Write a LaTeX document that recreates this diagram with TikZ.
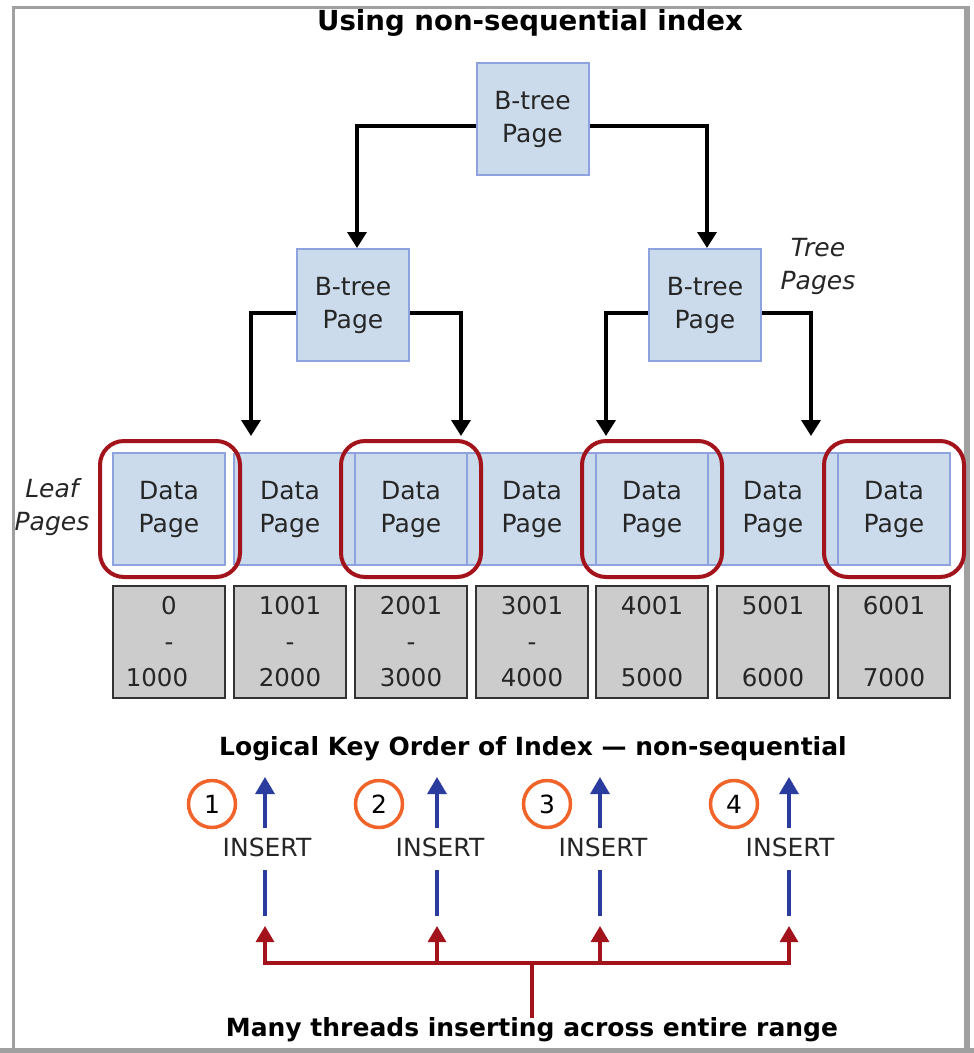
\documentclass[tikz,border=0pt]{standalone}
\usepackage{fontspec}
\setmainfont{DejaVu Sans}
\usetikzlibrary{arrows.meta}
\definecolor{boxfill}{HTML}{CBDBEB}
\definecolor{boxline}{HTML}{8EA3DD}
\definecolor{grayfill}{HTML}{CCCCCC}
\definecolor{hired}{HTML}{A3131B}
\definecolor{orng}{HTML}{F0642A}
\definecolor{arrblue}{HTML}{2A3C9E}
\definecolor{framegray}{HTML}{A0A0A0}
\tikzset{
  txt/.style={font=\fontsize{25}{33}\selectfont, align=center, inner sep=0pt, text=black!85},
  pagebox/.style={txt, draw=boxline, fill=boxfill, line width=2pt, minimum width=112pt, minimum height=112pt},
  rangebox/.style={font=\fontsize{24.5}{36}\selectfont, text=black!85, align=center, inner sep=0pt, draw=black!80, fill=grayfill, line width=2pt, minimum width=112pt, minimum height=112pt},
  hilite/.style={draw=hired, line width=4pt, rounded corners=24pt, minimum width=140pt, minimum height=136pt, inner sep=0pt},
  treearrow/.style={line width=3.5pt, -{Triangle[width=19pt,length=16pt]}},
  bluearrow/.style={draw=arrblue, line width=3.2pt},
  redline/.style={draw=hired, line width=3.2pt},
  numcircle/.style={circle, draw=orng, fill=white, line width=3.5pt, minimum size=47pt, inner sep=0pt, font=\fontsize{25}{25}\selectfont},
  boldtxt/.style={font=\bfseries\fontsize{25}{25}\selectfont, inner sep=0pt},
  itxt/.style={font=\itshape\fontsize{25}{33}\selectfont, align=center, inner sep=0pt, text=black!85}
}
\begin{document}
\begin{tikzpicture}[x=1pt,y=-1pt]
\useasboundingbox (0,0) rectangle (974,1053);
\fill[white] (0,0) rectangle (974,1053);
\fill[framegray] (12,6) rectangle (970,9);
\fill[framegray] (12,6) rectangle (15,1053);
\fill[framegray] (964,6) rectangle (970,1053);
\fill[framegray] (0,1048) rectangle (974,1053);

\node[boldtxt, font=\bfseries\fontsize{27.6}{27.6}\selectfont] (title) at (530,23) {Using non-sequential index};

% tree pages
\node[pagebox] (top) at (532.5,119) {B-tree\\Page};
\node[pagebox] (lb) at (353,305) {B-tree\\Page};
\node[pagebox] (rb) at (705,305) {B-tree\\Page};
\node[itxt] (treelbl) at (818,266) {Tree\\Pages};

% leaf strip
\fill[boxfill] (234,453) rectangle (950,565);
\draw[boxline, line width=2pt] (234,453) -- (950,453);
\draw[boxline, line width=2pt] (234,565) -- (950,565);
\draw[boxline, line width=2pt] (234,453) -- (234,565);

\node[hilite] (h1) at (170,509) {};
\node[hilite] (h3) at (411,509) {};
\node[hilite] (h5) at (652,509) {};
\node[hilite] (h7) at (894,509) {};

\node[pagebox] (d1) at (169,509) {Data\\Page};
\node[txt] (d2) at (290,509) {Data\\Page};
\node[pagebox] (d3) at (411,509) {Data\\Page};
\node[txt] (d4) at (532,509) {Data\\Page};
\node[pagebox] (d5) at (652,509) {Data\\Page};
\node[txt] (d6) at (773,509) {Data\\Page};
\node[pagebox] (d7) at (894,509) {Data\\Page};

\node[itxt] (leaflbl) at (52,507) {Leaf\\Pages};

% range boxes
\node[rangebox] (r1) at (169,642) {0\\-\\\hbox{1000\kern24pt}};
\node[rangebox] (r2) at (290,642) {1001\\-\\2000};
\node[rangebox] (r3) at (411,642) {2001\\-\\3000};
\node[rangebox] (r4) at (532,642) {3001\\-\\4000};
\node[rangebox] (r5) at (652,642) {4001\\\strut\\5000};
\node[rangebox] (r6) at (773,642) {5001\\\strut\\6000};
\node[rangebox] (r7) at (894,642) {6001\\\strut\\7000};

% tree connectors
\coordinate (lbt) at (357,248);
\coordinate (rbt) at (707,248);
\coordinate (lbl) at (251,436);
\coordinate (lbr) at (461,436);
\coordinate (rbl) at (606,436);
\coordinate (rbr) at (811,436);
\draw[treearrow] ([yshift=-7pt]top.west) -| (lbt);
\draw[treearrow] ([yshift=-7pt]top.east) -| (rbt);
\draw[treearrow] ([yshift=-8pt]lb.west) -| (lbl);
\draw[treearrow] ([yshift=-8pt]lb.east) -| (lbr);
\draw[treearrow] ([yshift=-8pt]rb.west) -| (rbl);
\draw[treearrow] ([yshift=-8pt]rb.east) -| (rbr);

% bottom
\node[boldtxt] (logical) at (533,749) {Logical Key Order of Index — non-sequential};

\node[numcircle] (c1) at (212,804) {1};
\node[numcircle] (c2) at (379,804) {2};
\node[numcircle] (c3) at (547,804) {3};
\node[numcircle] (c4) at (734,804) {4};

\node[txt] (i1) at (267,847) {INSERT};
\node[txt] (i2) at (440,847) {INSERT};
\node[txt] (i3) at (603,847) {INSERT};
\node[txt] (i4) at (790,847) {INSERT};

\foreach \n/\x in {1/265,2/437,3/600,4/789}{
  \coordinate (bt\n) at (\x,777);
  \coordinate (bm\n) at (\x,828);
  \coordinate (bl\n) at (\x,870);
  \coordinate (bb\n) at (\x,916);
  \coordinate (rt\n) at (\x,926);
  \draw[bluearrow, -{Triangle[width=19pt,length=17pt]}] (bm\n) -- (bt\n);
  \draw[bluearrow] (bl\n) -- (bb\n);
}

\node[boldtxt] (many) at (532,1030) {Many threads inserting across entire range};
\coordinate (rj) at (532,963);
\draw[redline] (many.north) -- (rj);
\foreach \n in {1,2,3,4}{
  \draw[redline, -{Triangle[width=18pt,length=16pt]}] (rj) -| (rt\n);
}
\end{tikzpicture}
\end{document}
